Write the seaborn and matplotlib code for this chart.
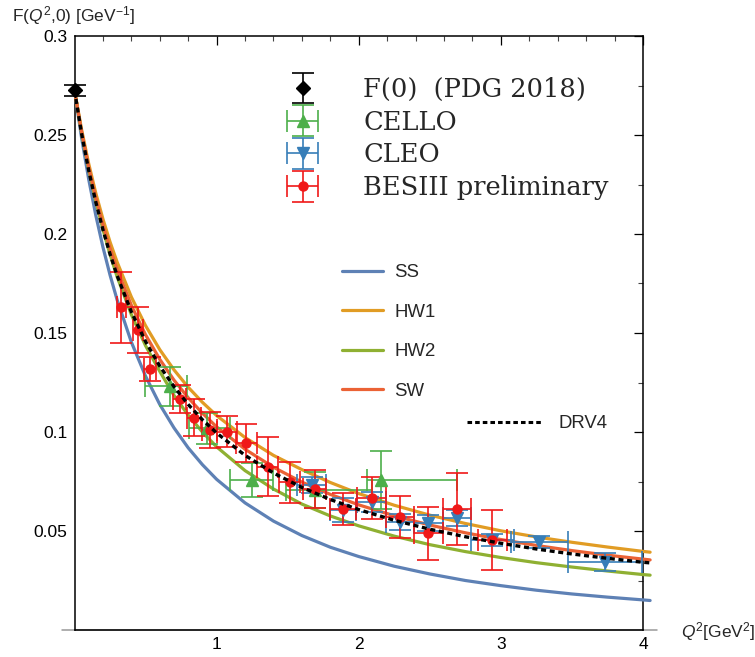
import matplotlib
matplotlib.use("Agg")
import matplotlib.pyplot as plt
import seaborn as sns
import numpy as np
import pandas as pd
from matplotlib.container import ErrorbarContainer
from matplotlib.legend_handler import HandlerErrorbar
from matplotlib.lines import Line2D

# ---------------- data ----------------
q2_grid = [0.0, 0.05, 0.1, 0.15, 0.2, 0.25, 0.3, 0.4, 0.5, 0.6, 0.7, 0.8, 0.9, 1.0,
           1.2, 1.4, 1.6, 1.8, 2.0, 2.25, 2.5, 2.75, 3.0, 3.25, 3.5, 3.75, 4.0, 4.05]
ss   = [0.2725, 0.2485, 0.2276, 0.2094, 0.1934, 0.1793, 0.1667, 0.1454, 0.1282, 0.1139,
        0.1021, 0.0920, 0.0835, 0.0761, 0.0642, 0.0550, 0.0477, 0.0418, 0.0371, 0.0322,
        0.0283, 0.0250, 0.0224, 0.0201, 0.0182, 0.0166, 0.0152, 0.0149]
hw1  = [0.2725, 0.2527, 0.2355, 0.2206, 0.2076, 0.1960, 0.1858, 0.1682, 0.1537, 0.1416,
        0.1314, 0.1226, 0.1150, 0.1083, 0.0972, 0.0882, 0.0810, 0.0745, 0.0689, 0.0630,
        0.0580, 0.0538, 0.0501, 0.0470, 0.0443, 0.0419, 0.0397, 0.0393]
hw2  = [0.2725, 0.2511, 0.2326, 0.2165, 0.2023, 0.1897, 0.1784, 0.1593, 0.1436, 0.1306,
        0.1185, 0.1085, 0.1000, 0.0925, 0.0805, 0.0712, 0.0636, 0.0576, 0.0526, 0.0474,
        0.0431, 0.0396, 0.0366, 0.0340, 0.0318, 0.0298, 0.0280, 0.0277]
sw   = [0.2725, 0.2517, 0.2338, 0.2183, 0.2047, 0.1927, 0.1821, 0.1640, 0.1491, 0.1367,
        0.1262, 0.1173, 0.1095, 0.1026, 0.0913, 0.0822, 0.0747, 0.0685, 0.0632, 0.0577,
        0.0530, 0.0491, 0.0457, 0.0427, 0.0401, 0.0378, 0.0358, 0.0354]
drv4 = [0.2725, 0.2507, 0.2321, 0.2161, 0.2022, 0.1899, 0.1790, 0.1607, 0.1457, 0.1333,
        0.1229, 0.1139, 0.1062, 0.0995, 0.0882, 0.0793, 0.0720, 0.0659, 0.0608, 0.0554,
        0.0509, 0.0471, 0.0438, 0.0409, 0.0384, 0.0362, 0.0342, 0.0339]

pdg_q2 = [0.0]
pdg_f = [0.2725]
pdg_ferr = [0.003]

cello_q2 = [0.672, 0.933, 1.246, 1.69, 2.16]
cello_f = [0.123, 0.1018, 0.0758, 0.0707, 0.0758]
cello_ferr = [0.010, 0.008, 0.0084, 0.0093, 0.0147]
cello_q2lo = [0.175, 0.13, 0.15, 0.2, 0.1]
cello_q2hi = [0.118, 0.163, 0.15, 0.4, 0.53]

cleo_q2 = [1.668, 1.89, 2.09, 2.29, 2.49, 2.69, 2.94, 3.27, 3.73]
cleo_f = [0.0732, 0.0606, 0.0648, 0.0547, 0.054, 0.0564, 0.0455, 0.0446, 0.0345]
cleo_ferr = [0.004, 0.006, 0.005, 0.004, 0.004, 0.004, 0.003, 0.003, 0.0045]
cleo_q2err = [0.105, 0.094, 0.105, 0.1, 0.1, 0.1, 0.15, 0.2, 0.26]

bes_q2 = [0.33, 0.45, 0.53, 0.74, 0.84, 0.95, 1.07, 1.21, 1.36, 1.515, 1.69, 1.89,
          2.09, 2.29, 2.49, 2.69, 2.94]
bes_f = [0.163, 0.1515, 0.1317, 0.1165, 0.1072, 0.101, 0.1002, 0.0945, 0.0825, 0.0745,
         0.0712, 0.061, 0.0668, 0.0570, 0.0488, 0.0612, 0.0455]
bes_ferr = [0.018, 0.0118, 0.006, 0.007, 0.0093, 0.0092, 0.008, 0.0095, 0.015, 0.0105,
            0.0095, 0.008, 0.0106, 0.0105, 0.0134, 0.0183, 0.015]
bes_q2err = [0.03, 0.035, 0.04, 0.045, 0.05, 0.05, 0.07, 0.075, 0.075, 0.075, 0.08, 0.09,
             0.1, 0.1, 0.1, 0.1, 0.1]

y_ticks = [0.05, 0.1, 0.15, 0.2, 0.25, 0.3]
y_labels = ["0.05", "0.1", "0.15", "0.2", "0.25", "0.3"]
x_ticks = [1, 2, 3, 4]
x_labels = ["1", "2", "3", "4"]

model_names = ["SS", "HW1", "HW2", "SW"]
model_vals = [ss, hw1, hw2, sw]
model_colors = ["#5E81B5", "#E19C24", "#8FB032", "#EB6235"]

# ---------------- style ----------------
sns.set_style("white")
plt.rcParams["font.family"] = ["Liberation Sans", "DejaVu Sans"]
plt.rcParams["mathtext.fontset"] = "custom"
plt.rcParams["mathtext.rm"] = "Liberation Sans"
plt.rcParams["mathtext.it"] = "Liberation Sans:italic"

W, H = 755, 657
fig = plt.figure(figsize=(W / 100, H / 100), dpi=100)
x0, x1, y0, y1 = 74.5, 643.0, 36.0, 630.0
ax = fig.add_axes([x0 / W, 1 - y1 / H, (x1 - x0) / W, (y1 - y0) / H])

# model curves
df = pd.DataFrame({"q2": q2_grid})
line_handles = []
for name, vals, col in zip(model_names, model_vals, model_colors):
    df[name] = vals
    sns.lineplot(data=df, x="q2", y=name, color=col, lw=2.3, ax=ax, zorder=3,
                 clip_on=False, legend=False)
    line_handles.append(Line2D([], [], color=col, lw=2.3))
df["DRV4"] = drv4
sns.lineplot(data=df, x="q2", y="DRV4", color="black", lw=2.4, ax=ax, zorder=6,
             clip_on=False, legend=False)
ax.lines[-1].set_dashes((1.5, 1.1))
drv_handle = Line2D([], [], color="black", lw=2.2, dashes=(1.5, 1.0))

# data
ekw = dict(elinewidth=1.2, capthick=1.2, capsize=8, linestyle="none", zorder=5,
           clip_on=False)
e_pdg = ax.errorbar(pdg_q2, pdg_f, yerr=pdg_ferr, fmt="D", color="black", ms=7, **ekw)
e_cello = ax.errorbar(cello_q2, cello_f, yerr=cello_ferr, xerr=[cello_q2lo, cello_q2hi],
                      fmt="^", color="#4DAF4A", ms=9, **ekw)
e_cleo = ax.errorbar(cleo_q2, cleo_f, yerr=cleo_ferr, xerr=cleo_q2err,
                     fmt="v", color="#377EB8", ms=9, **ekw)
e_bes = ax.errorbar(bes_q2, bes_f, yerr=bes_ferr, xerr=bes_q2err,
                    fmt="o", color="#F01818", ms=6.5, **ekw)

# axes
ax.set_xlim(0, 4)
ax.set_ylim(0, 0.3)
ax.set_xlabel("")
ax.set_ylabel("")
ax.set_xticks(x_ticks)
ax.set_xticklabels(x_labels)
ax.set_yticks(y_ticks)
ax.set_yticklabels(y_labels)
ax.set_xticks(np.arange(0.2, 4.0, 0.2), minor=True)
ax.set_yticks(np.arange(0.025, 0.3, 0.025), minor=True)
ax.tick_params(which="both", direction="in", top=True, right=True,
               labelsize=12.5, colors="black")
ax.tick_params(which="major", length=6.7, width=0.9, pad=5)
ax.tick_params(which="minor", length=3.6, width=0.8, color="#444444")
for s in ax.spines.values():
    s.set_visible(True)
    s.set_color("black")
    s.set_linewidth(1.1)
ax.axhline(0, xmin=-0.022, xmax=1.025, color="#999999", lw=1.1, clip_on=False, zorder=0.5)

fig.text(11.5 / W, 1 - 16 / H, r"F($Q^2$,0) [GeV$^{-1}$]", fontsize=12.5, va="center",
         ha="left")
fig.text(681 / W, 1 - 632 / H, r"$Q^2$[GeV$^2$]", fontsize=12.5, va="center", ha="left")

# legends
hmap = {ErrorbarContainer: HandlerErrorbar(xerr_size=0.6)}
fig.legend([e_pdg, e_cello, e_cleo, e_bes],
           ["F(0)  (PDG 2018)", "CELLO", "CLEO", "BESIII preliminary"],
           loc="upper left", bbox_to_anchor=(286 / W, 1 - 77 / H),
           bbox_transform=fig.transFigure, frameon=False, borderpad=0,
           borderaxespad=0, handlelength=1.3, handletextpad=1.7, labelspacing=0.3,
           prop={"family": "DejaVu Serif", "size": 18.5}, handler_map=hmap)
fig.legend(line_handles, model_names, loc="upper left",
           bbox_to_anchor=(342 / W, 1 - 264 / H), bbox_transform=fig.transFigure,
           frameon=False, borderpad=0, borderaxespad=0, handlelength=2.2,
           handletextpad=0.6, labelspacing=1.21,
           prop={"family": "Liberation Sans", "size": 13.4})
fig.legend([drv_handle], ["DRV4"], loc="upper left",
           bbox_to_anchor=(467 / W, 1 - 415 / H), bbox_transform=fig.transFigure,
           frameon=False, borderpad=0, borderaxespad=0, handlelength=4.1,
           handletextpad=0.8, prop={"family": "Liberation Sans", "size": 13.4})

fig.savefig("out.png", dpi=100)
